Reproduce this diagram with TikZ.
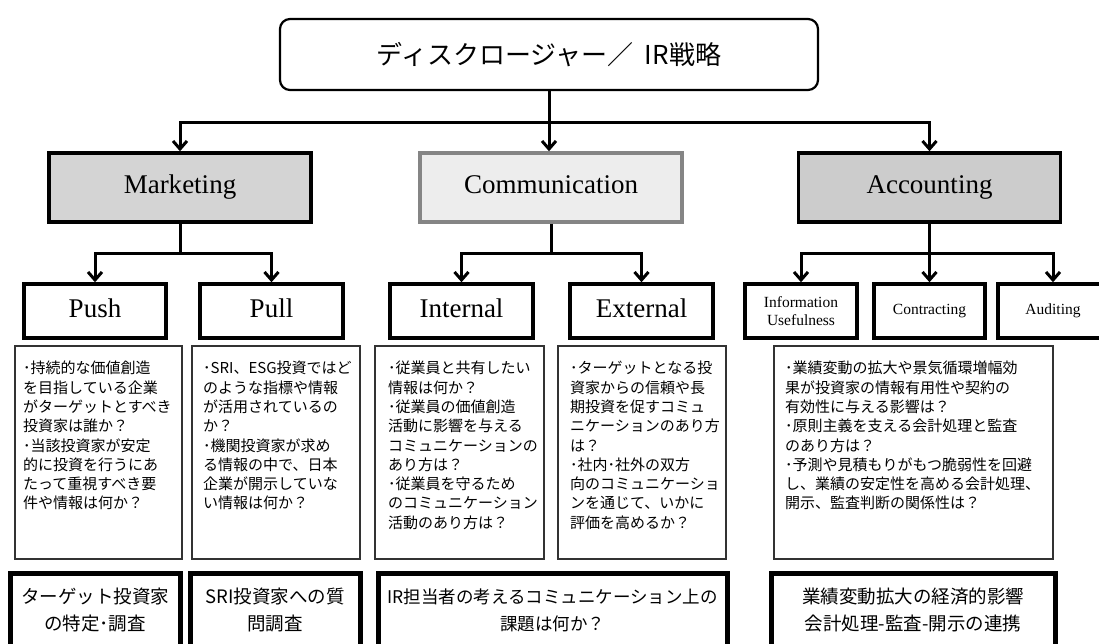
\documentclass[tikz,border=0pt]{standalone}
\usepackage{fontspec}
\setmainfont{Liberation Serif}
\newfontfamily\jpfont{Noto Sans CJK JP}
\usetikzlibrary{arrows.meta}
\definecolor{MktClr}{gray}{0.83}
\definecolor{ComClr}{gray}{0.93}
\definecolor{ComLine}{gray}{0.52}
\definecolor{AccClr}{gray}{0.80}
\definecolor{QLine}{gray}{0.2}

\tikzset{
  topbox/.style={draw, line width=2.2pt, rounded corners=10pt, minimum width=538pt,
    minimum height=71pt, inner sep=0pt, font=\jpfont\fontsize{26}{30}\selectfont},
  catbox/.style={draw, line width=3.5pt, minimum width=262pt, minimum height=69pt,
    inner sep=0pt, text height=18pt, text depth=6pt, font=\fontsize{27}{30}\selectfont},
  subbox/.style={draw, line width=3.5pt, minimum width=142pt, minimum height=54pt,
    inner sep=0pt, text height=18pt, text depth=6pt, font=\fontsize{27}{30}\selectfont},
  smallbox/.style={subbox, minimum width=111pt, align=center, text height=, text depth=,
    font=\fontsize{15.5}{18}\selectfont},
  qbox/.style={draw=QLine, line width=1.6pt, minimum height=213pt, inner sep=0pt,
    anchor=north west},
  qtext/.style={anchor=north west, inner sep=0pt, align=left,
    font=\jpfont\fontsize{15}{19.3}\selectfont},
  goalbox/.style={draw, line width=5pt, minimum height=74pt, inner sep=0pt,
    align=center, font=\jpfont\fontsize{18.5}{27}\selectfont},
  link/.style={line width=3pt, -{Straight Barb[length=8pt,width=14pt]}},
  bus/.style={line width=3pt}
}

\begin{document}
\begin{tikzpicture}[x=1pt,y=-1pt]
\useasboundingbox (0,0) rectangle (1099,643);
\clip (0,0) rectangle (1099,643);

% strategy and the three fields
\node[topbox] (ir) at (549,54.5) {ディスクロージャー／\ \ IR戦略};

\node[catbox, fill=MktClr] (mkt) at (180,187.5) {Marketing};
\node[catbox, fill=ComClr, draw=ComLine] (com) at (551,187.5) {Communication};
\node[catbox, fill=AccClr] (acc) at (929.5,187.5) {Accounting};

\node[subbox] (push) at (95,311) {Push};
\node[subbox, minimum width=143pt] (pull) at (271.5,311) {Pull};
\node[subbox, minimum width=143pt] (int) at (461.5,311) {Internal};
\node[subbox, minimum width=143pt] (ext) at (641.5,311) {External};
\node[smallbox, minimum width=112pt] (info) at (801,311) {Information\\Usefulness};
\node[smallbox] (cont) at (929.5,311) {Contracting};
\node[smallbox, minimum width=110pt] (aud) at (1053,311) {Auditing};

% connectors
\coordinate (j0) at (549,122);
\coordinate (j1) at (180,253);
\coordinate (j2) at (551,253);
\coordinate (j3) at (929.5,253);

\draw[bus] (ir) -- (j0);
\draw[link] (j0) -| (mkt.north);
\draw[link] (j0) -- (j0 |- com.north);
\draw[link] (j0) -| (acc.north);

\draw[bus] (mkt) -- (j1);
\draw[link] (j1) -| (push.north);
\draw[link] (j1) -| (pull.north);

\draw[bus] (com) -- (j2);
\draw[link] (j2) -| (int.north);
\draw[link] (j2) -| (ext.north);

\draw[bus] (acc) -- (j3);
\draw[link] (j3) -| (info.north);
\draw[link] (j3) -- (cont.north);
\draw[link] (j3) -| (aud.north);

% research questions
\node[qbox, minimum width=167pt] (qpush) at (14,345) {};
\node[qbox, minimum width=168pt] (qpull) at (191,345) {};
\node[qbox, minimum width=169pt] (qint) at (374,345) {};
\node[qbox, minimum width=168pt] (qext) at (557,345) {};
\node[qbox, minimum width=279pt] (qacc) at (773,345) {};

\node[qtext] (tpush) at (23,361) {･持続的な価値創造\\を目指している企業\\がターゲットとすべき\\投資家は誰か？\\･当該投資家が安定\\的に投資を行うにあ\\たって重視すべき要\\件や情報は何か？};
\node[qtext] (tpull) at (203,361) {･SRI、ESG投資ではど\\のような指標や情報\\が活用されているの\\か？\\･機関投資家が求め\\る情報の中で、日本\\企業が開示していな\\い情報は何か？};
\node[qtext] (tint) at (388,361) {･従業員と共有したい\\情報は何か？\\･従業員の価値創造\\活動に影響を与える\\コミュニケーションの\\あり方は？\\･従業員を守るため\\のコミュニケーション\\活動のあり方は？};
\node[qtext] (text) at (570,361) {･ターゲットとなる投\\資家からの信頼や長\\期投資を促すコミュ\\ニケーションのあり方\\は？\\･社内･社外の双方\\向のコミュニケーショ\\ンを通じて、いかに\\評価を高めるか？};
\node[qtext] (tacc) at (785,361) {･業績変動の拡大や景気循環増幅効\\果が投資家の情報有用性や契約の\\有効性に与える影響は？\\･原則主義を支える会計処理と監査\\のあり方は？\\･予測や見積もりがもつ脆弱性を回避\\し、業績の安定性を高める会計処理、\\開示、監査判断の関係性は？};

% study themes
\node[goalbox, minimum width=170pt] (gpush) at (95,610) {ターゲット投資家\\の特定･調査};
\node[goalbox, minimum width=170pt] (gpull) at (275,610) {SRI投資家への質\\問調査};
\node[goalbox, minimum width=349pt, font=\jpfont\fontsize{17.5}{27}\selectfont] (gcom) at (552.5,610) {IR担当者の考えるコミュニケーション上の\\課題は何か？};
\node[goalbox, minimum width=284pt] (gacc) at (913,610) {業績変動拡大の経済的影響\\会計処理-監査-開示の連携};

\end{tikzpicture}
\end{document}
